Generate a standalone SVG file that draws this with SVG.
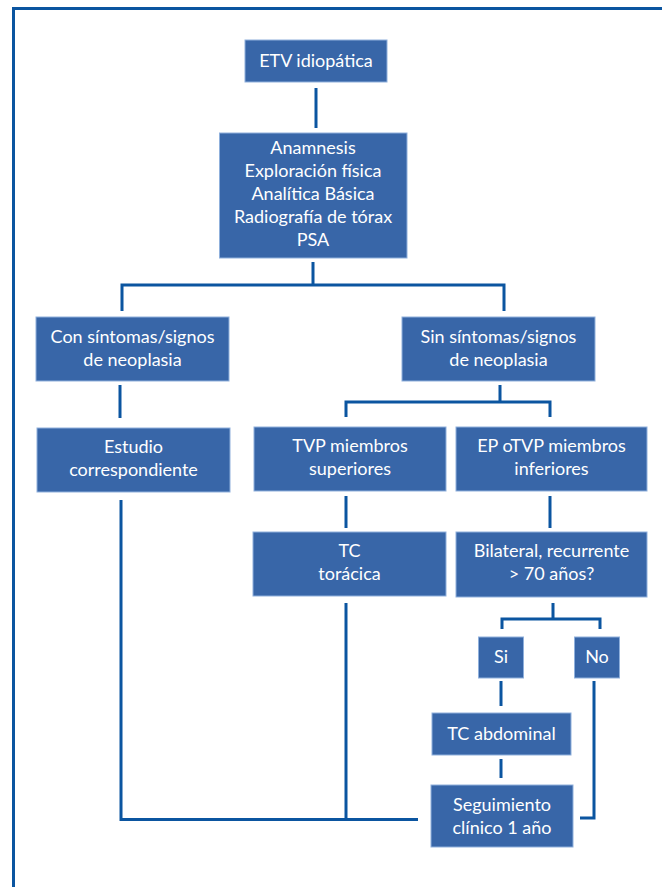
<svg xmlns="http://www.w3.org/2000/svg" width="662" height="887" viewBox="0 0 662 887">
  <style>
    .box { fill: #3866a8; stroke: #8fb0dc; stroke-width: 1; }
    .lbl { fill: #ffffff; font-family: Lato, "Open Sans", "Liberation Sans", sans-serif; font-size: 18px; text-anchor: middle; }
    .wire { fill: none; stroke: #0b55a0; stroke-width: 3; }
  </style>

  <!-- outer frame, open to the right and bottom -->
  <path d="M13.5,887 V8.5 H662" fill="none" stroke="#0b55a0" stroke-width="3"/>

  <!-- connectors -->
  <g id="connectors">
    <path class="wire" d="M316,88 V128"/>
    <path class="wire" d="M313,262 V285 M122,311 V285 H504 V311"/>
    <path class="wire" d="M120,385 V418"/>
    <path class="wire" d="M500,385 V402 M346,417 V402 H550 V417"/>
    <path class="wire" d="M346,496 V528"/>
    <path class="wire" d="M550,496 V528"/>
    <path class="wire" d="M553,603 V619 M502,629 V619 H600 V629"/>
    <path class="wire" d="M501,681 V706"/>
    <path class="wire" d="M501,759 V778"/>
    <path class="wire" d="M121,500 V819.5 H418"/>
    <path class="wire" d="M346,603 V819.5"/>
    <path class="wire" d="M594,681 V818 H580"/>
  </g>

  <g id="n-etv">
    <rect class="box" x="245" y="40" width="142" height="42"/>
    <text class="lbl" x="316" y="67">ETV idiopática</text>
  </g>

  <g id="n-estudio-inicial">
    <rect class="box" x="219.5" y="133" width="187.5" height="125"/>
    <text class="lbl" x="313" y="154">Anamnesis</text>
    <text class="lbl" x="313" y="177">Exploración física</text>
    <text class="lbl" x="313" y="200">Analítica Básica</text>
    <text class="lbl" x="313" y="223">Radiografía de tórax</text>
    <text class="lbl" x="313" y="246">PSA</text>
  </g>

  <g id="n-con-sintomas">
    <rect class="box" x="36" y="317" width="193" height="64"/>
    <text class="lbl" x="132.5" y="343">Con síntomas/signos</text>
    <text class="lbl" x="132.5" y="366">de neoplasia</text>
  </g>

  <g id="n-sin-sintomas">
    <rect class="box" x="402" y="317" width="193" height="64"/>
    <text class="lbl" x="498.5" y="343">Sin síntomas/signos</text>
    <text class="lbl" x="498.5" y="366">de neoplasia</text>
  </g>

  <g id="n-estudio-corresp">
    <rect class="box" x="37" y="428" width="193" height="64"/>
    <text class="lbl" x="133.5" y="453">Estudio</text>
    <text class="lbl" x="133.5" y="476">correspondiente</text>
  </g>

  <g id="n-tvp-sup">
    <rect class="box" x="254" y="427" width="192" height="64"/>
    <text class="lbl" x="350" y="452">TVP miembros</text>
    <text class="lbl" x="350" y="475">superiores</text>
  </g>

  <g id="n-ep-tvp-inf">
    <rect class="box" x="456" y="427" width="191" height="64"/>
    <text class="lbl" x="551.5" y="452">EP oTVP miembros</text>
    <text class="lbl" x="551.5" y="475">inferiores</text>
  </g>

  <g id="n-tc-toracica">
    <rect class="box" x="253" y="532" width="193" height="64"/>
    <text class="lbl" x="349.5" y="557">TC</text>
    <text class="lbl" x="349.5" y="580">torácica</text>
  </g>

  <g id="n-bilateral">
    <rect class="box" x="456" y="532" width="191" height="65"/>
    <text class="lbl" x="551.5" y="557">Bilateral, recurrente</text>
    <text class="lbl" x="551.5" y="580">&gt; 70 años?</text>
  </g>

  <g id="n-si">
    <rect class="box" x="478.5" y="637" width="45" height="41"/>
    <text class="lbl" x="501" y="663">Si</text>
  </g>

  <g id="n-no">
    <rect class="box" x="574.5" y="637" width="45" height="41"/>
    <text class="lbl" x="597" y="663">No</text>
  </g>

  <g id="n-tc-abdominal">
    <rect class="box" x="432" y="713" width="139" height="42"/>
    <text class="lbl" x="501.5" y="740">TC abdominal</text>
  </g>

  <g id="n-seguimiento">
    <rect class="box" x="431" y="785" width="142" height="62"/>
    <text class="lbl" x="502" y="811">Seguimiento</text>
    <text class="lbl" x="502" y="834">clínico 1 año</text>
  </g>
</svg>
